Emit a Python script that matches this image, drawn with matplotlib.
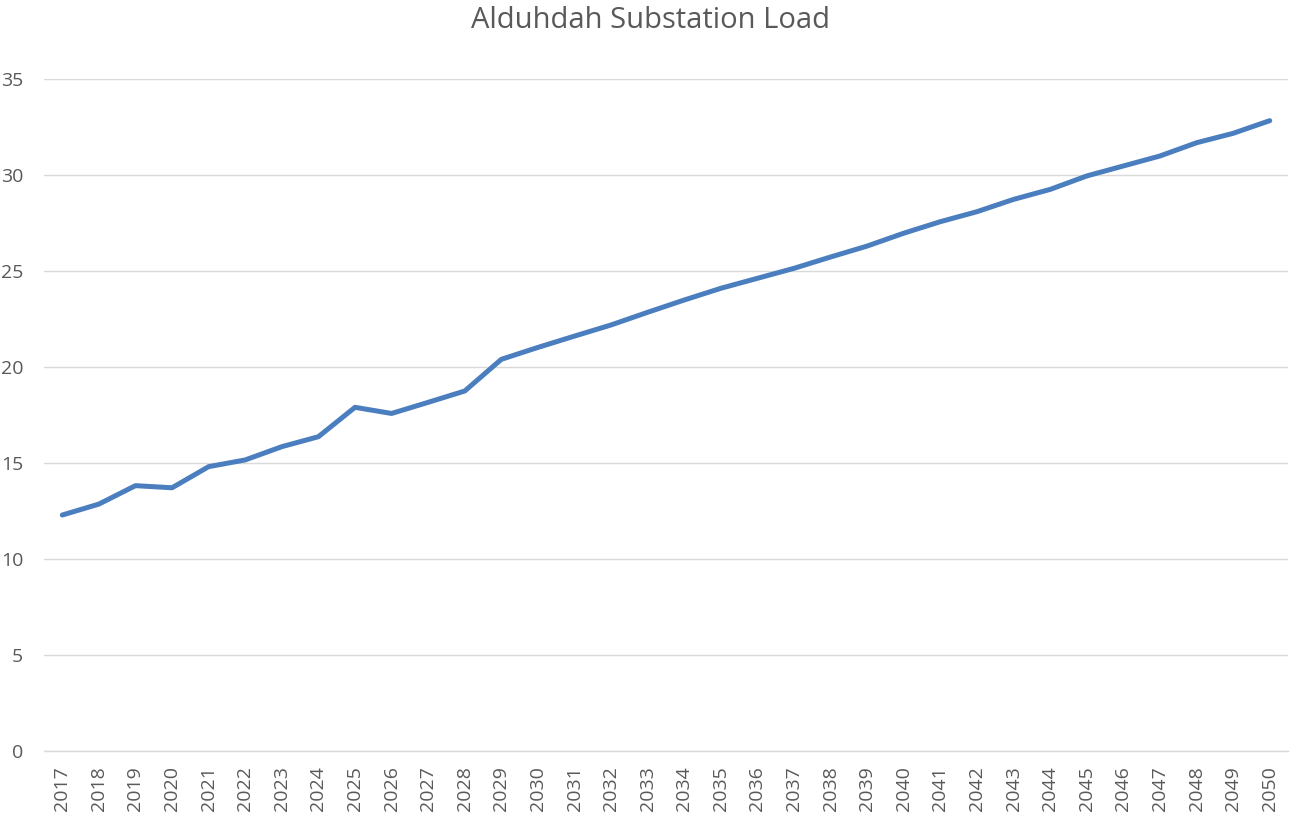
import matplotlib
matplotlib.use("Agg")
import matplotlib.pyplot as plt

years = [str(y) for y in range(2017, 2051)]
load = [12.29, 12.86, 13.82, 13.71, 14.81, 15.16, 15.85, 16.37, 17.90, 17.58,
        18.16, 18.75, 20.40, 21.02, 21.61, 22.19, 22.85, 23.49, 24.10, 24.62,
        25.14, 25.73, 26.30, 26.97, 27.57, 28.09, 28.73, 29.25, 29.95, 30.47,
        30.99, 31.68, 32.17, 32.83]
yticks = [0, 5, 10, 15, 20, 25, 30, 35]
title = "Alduhdah Substation Load"

plt.rcParams['font.family'] = ['Open Sans', 'DejaVu Sans']
W, H = 1291, 824
fig = plt.figure(figsize=(W / 100, H / 100), dpi=100)
ax = fig.add_axes([44 / W, (H - 751) / H, 1244 / W, 672 / H])

x = list(range(len(years)))
ax.plot(x, load, color='#4a7ebf', linewidth=3.6, solid_capstyle='round', solid_joinstyle='round', zorder=3)

ax.set_xlim(-0.5, len(years) - 0.5)
ax.set_ylim(0, 35)
ax.set_yticks(yticks)
ax.set_yticklabels([str(v) for v in yticks], fontsize=14)
ax.set_xticks(x)
ax.set_xticklabels(years, rotation=90, fontsize=14)
ax.grid(axis='y', color='#d9d9d9', linewidth=1.0, zorder=0)
for s in ['top', 'right', 'left']:
    ax.spines[s].set_visible(False)
ax.spines['bottom'].set_color('#d9d9d9')
ax.spines['bottom'].set_linewidth(1.0)
ax.tick_params(axis='both', length=0, colors='#595959')
ax.tick_params(axis='y', pad=15)
ax.tick_params(axis='x', pad=11)

fig.text(650 / W, 1 - 28 / H, title, ha='center', va='baseline', fontsize=21, color='#595959')

fig.savefig('out.png', dpi=100)
